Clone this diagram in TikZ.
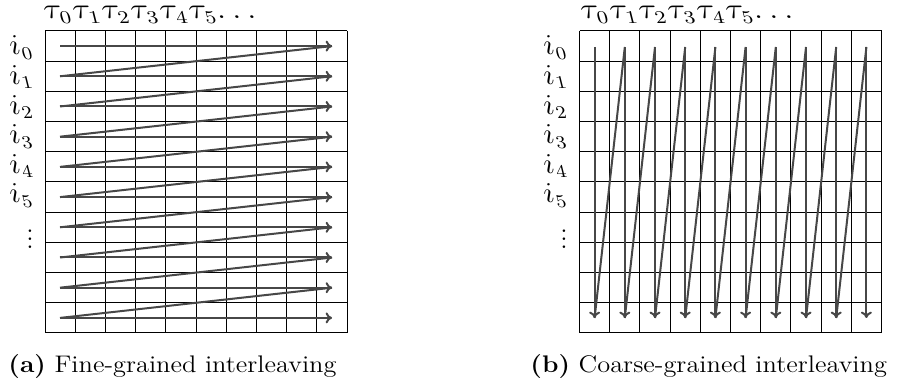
\documentclass[tikz,border=0pt]{standalone}
\usetikzlibrary{arrows.meta}
\begin{document}
\begin{tikzpicture}[x=0.5pt,y=-0.5pt,
  gridline/.style={line width=0.5pt,black},
  arr/.style={line width=1pt,draw=black!72,-{To[length=3.2pt,width=5.5pt]}},
  seg/.style={line width=1pt,draw=black!72},
  lbl/.style={inner sep=0pt,font=\fontsize{13.5}{16}\selectfont},
  taulbl/.style={lbl,anchor=base west,xslant=-0.25,xscale=1.2},
  ilbl/.style={lbl,anchor=base east,xslant=-0.25,xscale=1.1},
  captext/.style={inner sep=0pt,anchor=base west,xscale=1.1,font=\fontsize{12}{14}\selectfont}]
\useasboundingbox (0,0) rectangle (897,383);
% grids
\foreach \ox in {45,579.5}{
  \foreach \k in {0,...,10}{
    \draw[gridline] ({\ox+30.2*\k},31) -- ({\ox+30.2*\k},333);
    \draw[gridline] (\ox,{31+30.2*\k}) -- ({\ox+302},{31+30.2*\k});
  }
}
% (a) fine-grained
\foreach \r in {1,...,10}{
  \coordinate (As\r) at (60,{31+30.2*(\r-0.5)});
  \coordinate (Ae\r) at (332,{31+30.2*(\r-0.5)});
  \draw[arr] (As\r) -- (Ae\r);
}
\foreach \r [evaluate=\r as \n using {int(\r+1)}] in {1,...,9}{
  \draw[seg] (Ae\r) -- (As\n);
}
% (b) coarse-grained
\foreach \c in {1,...,10}{
  \coordinate (Bs\c) at ({579.5+30.2*(\c-0.5)},47);
  \coordinate (Be\c) at ({579.5+30.2*(\c-0.5)},318);
  \draw[arr] (Bs\c) -- (Be\c);
}
\foreach \c [evaluate=\c as \n using {int(\c+1)}] in {1,...,9}{
  \draw[seg] (Be\c) -- (Bs\n);
}
% labels
\foreach \ox/\p in {45/a,582/b}{
  \foreach \k in {0,...,4}{
    \node[taulbl] (tau\p\k) at ({\ox+29*\k},19) {$\tau_{\k}$};
  }
  \node[taulbl] (tau\p5) at ({\ox+145},19) {$\tau_5\mkern-3mu\ldots$};
}
\foreach \ex/\p in {34/a,568/b}{
  \foreach \k in {0,...,5}{
    \node[ilbl] (i\p\k) at (\ex,{55+29.6*\k}) {$i_{\k}$};
  }
  \node[lbl,anchor=north] (vd\p) at ({\ex-4},{217}) {$\vdots$};
}
\node[captext] (capa) at (8,373) {\textbf{(a)} Fine-grained interleaving};
\node[captext] (capb) at (530,373) {\textbf{(b)} Coarse-grained interleaving};
\end{tikzpicture}
\end{document}
